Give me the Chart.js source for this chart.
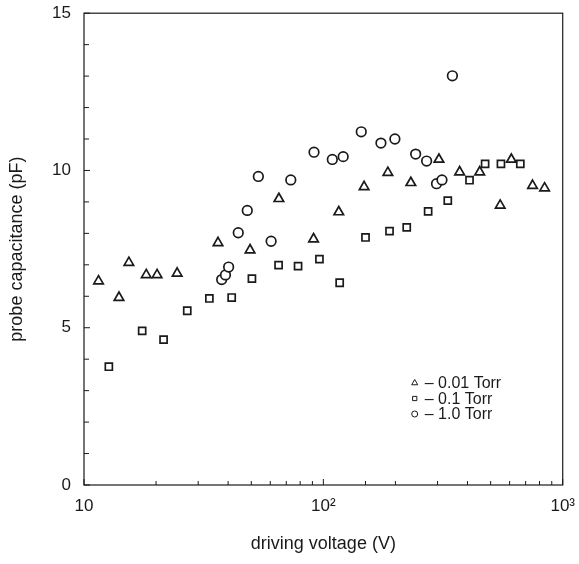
<!DOCTYPE html>
<html>
<head>
<meta charset="UTF-8">
<script src="https://cdn.jsdelivr.net/npm/chart.js@4"></script>
<style>
  html, body { margin: 0; padding: 0; background: #fff; overflow: hidden; }
  #frame { width: 579px; height: 564px; position: relative; overflow: hidden; }
  #wrap { width: 586px; height: 574px; position: absolute; left: 0; top: -10px; }
</style>
</head>
<body>
<div id="frame"><div id="wrap"><canvas id="c"></canvas></div></div>
<script>
// 0.01 Torr (triangles)
const t001X = [11.5, 14.0, 15.4, 18.2, 20.2, 24.5, 36.3, 49.4, 65.2, 91.0, 116, 148, 186, 232, 304, 371, 450, 548, 610, 748, 840];
const t001Y = [6.48, 5.96, 7.07, 6.68, 6.68, 6.73, 7.70, 7.47, 9.10, 7.82, 8.68, 9.48, 9.93, 9.61, 10.35, 9.95, 9.95, 8.89, 10.35, 9.52, 9.44];
// 0.1 Torr (squares)
const t01X = [12.7, 17.5, 21.5, 27.0, 33.4, 41.4, 50.3, 65.0, 78.4, 96.3, 117, 150, 189, 223, 274, 331, 408, 474, 552, 665];
const t01Y = [3.76, 4.90, 4.62, 5.54, 5.93, 5.96, 6.56, 6.99, 6.96, 7.18, 6.43, 7.87, 8.07, 8.19, 8.70, 9.04, 9.69, 10.21, 10.21, 10.21];
// 1.0 Torr (circles)
const t1X = [37.6, 39.0, 40.2, 44.1, 48.1, 53.5, 60.5, 73.1, 91.4, 109, 121, 144, 174, 199, 243, 270, 297, 313, 346];
const t1Y = [6.53, 6.68, 6.93, 8.02, 8.73, 9.81, 7.75, 9.70, 10.58, 10.35, 10.44, 11.23, 10.87, 11.00, 10.52, 10.30, 9.58, 9.70, 13.01];

const legendLabels = ['\u2013 0.01 Torr', '\u2013 0.1 Torr', '\u2013 1.0 Torr'];
const xTickLabels = { 10: '10', 100: '10\u00b2', 1000: '10\u00b3' };
const yTickLabels = [0, 5, 10, 15];

const ink = '#1a1a1a';
const FONT = "'Liberation Sans', Arial, sans-serif";

const pts = (xs, ys) => xs.map((x, i) => ({ x: x, y: ys[i] }));

// inward tick marks, frame, and the in-plot legend
const decor = {
  id: 'decor',
  afterDraw(chart) {
    const ctx = chart.ctx;
    const a = chart.chartArea;
    const xs = chart.scales.x, ys = chart.scales.y;
    ctx.save();
    ctx.strokeStyle = ink;
    ctx.lineWidth = 1.2;
    ctx.strokeRect(a.left, a.top, a.right - a.left, a.bottom - a.top);

    ctx.lineWidth = 1;
    ctx.beginPath();
    ys.ticks.forEach(t => {
      const py = ys.getPixelForValue(t.value);
      const len = t.value % 5 === 0 ? 6 : 5;
      ctx.moveTo(a.left, py); ctx.lineTo(a.left + len, py);
    });
    xs.ticks.forEach(t => {
      const px = xs.getPixelForValue(t.value);
      const major = xTickLabels[t.value] !== undefined;
      const len = major ? 6 : 4;
      ctx.moveTo(px, a.bottom); ctx.lineTo(px, a.bottom - len);
    });
    ctx.stroke();

    // legend
    const lx = a.right - 148;
    const ly = a.bottom - 102;
    const styles = ['triangle', 'rect', 'circle'];
    ctx.font = '16px ' + FONT;
    ctx.textBaseline = 'middle';
    styles.forEach((s, i) => {
      const y = ly + i * 15.5;
      ctx.strokeStyle = ink;
      ctx.fillStyle = '#fff';
      ctx.lineWidth = 1;
      Chart.helpers.drawPoint(ctx, { pointStyle: s, radius: s === 'triangle' ? 3.5 : 3, rotation: 0, borderWidth: 1 }, lx, y);
      ctx.fillStyle = ink;
      ctx.fillText(legendLabels[i], lx + 10, y + 1);
    });
    ctx.restore();
  }
};

new Chart(document.getElementById('c'), {
  type: 'scatter',
  data: {
    datasets: [
      { label: legendLabels[0], data: pts(t001X, t001Y), pointStyle: 'triangle', pointRadius: 5.5,
        borderColor: ink, backgroundColor: '#fff', pointBorderWidth: 1.7 },
      { label: legendLabels[1], data: pts(t01X, t01Y), pointStyle: 'rect', pointRadius: 5,
        borderColor: ink, backgroundColor: '#fff', pointBorderWidth: 1.7 },
      { label: legendLabels[2], data: pts(t1X, t1Y), pointStyle: 'circle', pointRadius: 4.8,
        borderColor: ink, backgroundColor: '#fff', pointBorderWidth: 1.7 }
    ]
  },
  options: {
    responsive: true,
    maintainAspectRatio: false,
    animation: false,
    layout: { padding: { top: 2, right: 10, left: 0, bottom: 0 } },
    plugins: { legend: { display: false }, tooltip: { enabled: false } },
    scales: {
      x: {
        type: 'logarithmic',
        min: 10, max: 1000,
        grid: { display: false, drawTicks: false },
        border: { display: false },
        afterFit(s) { s.height = 79; },
        ticks: {
          autoSkip: false, maxRotation: 0, padding: 11,
          color: ink, font: { family: FONT, size: 17 },
          callback: v => xTickLabels[v] !== undefined ? xTickLabels[v] : ''
        },
        title: {
          display: true, text: 'driving voltage (V)', color: ink,
          font: { family: FONT, size: 18 }, padding: { top: 0, bottom: 9 }
        }
      },
      y: {
        min: 0, max: 15,
        grid: { display: false, drawTicks: false },
        border: { display: false },
        afterFit(s) { s.width = 84; },
        ticks: {
          stepSize: 1, autoSkip: false, padding: 13,
          color: ink, font: { family: FONT, size: 17 },
          callback: v => yTickLabels.includes(v) ? String(v) : ''
        },
        title: {
          display: true, text: 'probe capacitance (pF)', color: ink,
          font: { family: FONT, size: 18 }, padding: { top: 6, bottom: 0 }
        }
      }
    }
  },
  plugins: [decor]
});
</script>
</body>
</html>
